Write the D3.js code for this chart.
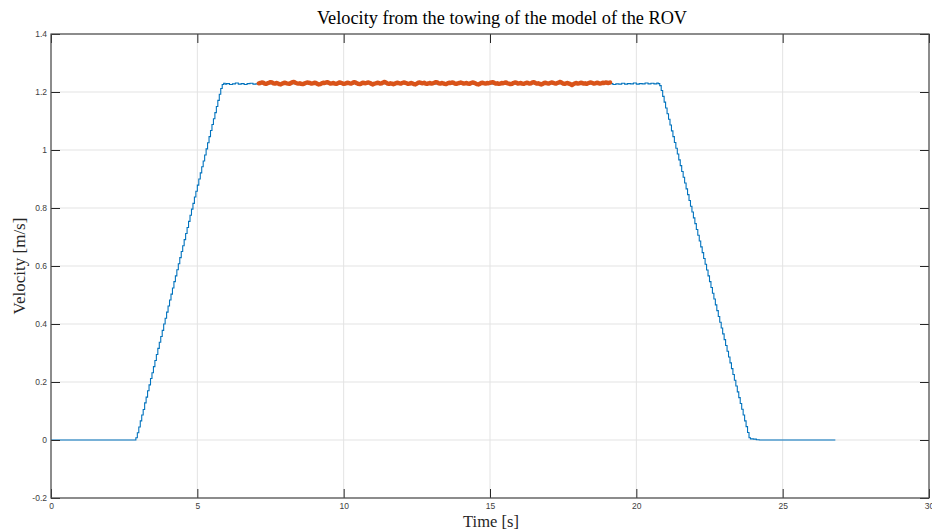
<!DOCTYPE html>
<html>
<head>
<meta charset="utf-8">
<script src="https://cdn.jsdelivr.net/npm/d3@7"></script>
<style>
  html, body { margin: 0; padding: 0; background: #fff; }
  svg { display: block; }
</style>
</head>
<body>
<svg id="chart" width="932" height="530"></svg>
<script>
// Tow-carriage velocity record [time s, velocity m/s]
const towTime = [
  0, 2.85, 2.90, 2.95, 3.00, 3.05, 3.10, 3.15, 3.20, 3.25, 3.30, 3.35, 3.40, 3.45, 3.50,
  3.55, 3.60, 3.65, 3.70, 3.75, 3.80, 3.85, 3.90, 3.95, 4.00, 4.05, 4.10, 4.15, 4.20,
  4.25, 4.30, 4.35, 4.40, 4.45, 4.50, 4.55, 4.60, 4.65, 4.70, 4.75, 4.80, 4.85, 4.90,
  4.95, 5.00, 5.05, 5.10, 5.15, 5.20, 5.25, 5.30, 5.35, 5.40, 5.45, 5.50, 5.55, 5.60,
  5.65, 5.70, 5.75, 5.80, 5.85, 5.90, 5.95, 6.00, 6.10, 6.20, 6.30, 6.40, 6.50, 6.60,
  6.70, 6.80, 6.90, 7.00, 7.10, 10.0, 13.0, 16.0, 19.1, 19.2, 19.3, 19.4, 19.5, 19.6,
  19.7, 19.8, 19.9, 20.0, 20.1, 20.2, 20.3, 20.4, 20.5, 20.6, 20.7, 20.75, 20.80, 20.85,
  20.90, 20.95, 21.00, 21.05, 21.10, 21.15, 21.20, 21.25, 21.30, 21.35, 21.40, 21.45,
  21.50, 21.55, 21.60, 21.65, 21.70, 21.75, 21.80, 21.85, 21.90, 21.95, 22.00, 22.05,
  22.10, 22.15, 22.20, 22.25, 22.30, 22.35, 22.40, 22.45, 22.50, 22.55, 22.60, 22.65,
  22.70, 22.75, 22.80, 22.85, 22.90, 22.95, 23.00, 23.05, 23.10, 23.15, 23.20, 23.25,
  23.30, 23.35, 23.40, 23.45, 23.50, 23.55, 23.60, 23.65, 23.70, 23.75, 23.80, 23.85,
  23.90, 24.00, 24.10, 24.20, 26.80
];
const towVelocity = [
  0, 0, 0.008, 0.025, 0.045, 0.066, 0.086, 0.105, 0.128, 0.148, 0.170, 0.190, 0.212, 0.232, 0.253,
  0.274, 0.295, 0.316, 0.337, 0.357, 0.378, 0.400, 0.420, 0.441, 0.462, 0.483, 0.503, 0.524, 0.546,
  0.566, 0.587, 0.608, 0.629, 0.650, 0.670, 0.691, 0.712, 0.733, 0.754, 0.775, 0.796, 0.816, 0.838,
  0.858, 0.879, 0.900, 0.921, 0.942, 0.962, 0.983, 1.004, 1.025, 1.046, 1.067, 1.088, 1.108, 1.129,
  1.150, 1.171, 1.192, 1.212, 1.226, 1.230, 1.227, 1.229, 1.226, 1.228, 1.231, 1.227, 1.229, 1.226,
  1.229, 1.230, 1.227, 1.228, 1.229, 1.229, 1.228, 1.229, 1.229, 1.226, 1.228, 1.227, 1.230, 1.227,
  1.229, 1.228, 1.231, 1.227, 1.229, 1.228, 1.231, 1.228, 1.230, 1.228, 1.231, 1.229, 1.222, 1.205,
  1.185, 1.165, 1.145, 1.125, 1.106, 1.086, 1.066, 1.046, 1.026, 1.006, 0.986, 0.966,
  0.946, 0.926, 0.906, 0.886, 0.866, 0.846, 0.826, 0.806, 0.786, 0.766, 0.746, 0.726,
  0.706, 0.686, 0.666, 0.646, 0.626, 0.606, 0.586, 0.566, 0.546, 0.526, 0.506, 0.486,
  0.466, 0.446, 0.426, 0.406, 0.386, 0.366, 0.346, 0.326, 0.306, 0.286, 0.266, 0.246,
  0.226, 0.206, 0.186, 0.166, 0.146, 0.126, 0.106, 0.086, 0.066, 0.046, 0.026, 0.008,
  0.004, 0.003, 0.001, 0, 0
];

// Steady-state window used for the measurement, sampled every 0.05 s from 7.1 s
const steadyStart = 7.1;
const steadyStep = 0.05;
const steadyVelocity = [
  1.230, 1.231, 1.233, 1.232, 1.229, 1.228, 1.230, 1.232, 1.234, 1.233, 1.230, 1.229, 1.231, 1.230, 1.227, 1.226, 1.229, 1.231, 1.232, 1.230,
  1.229, 1.228, 1.231, 1.234, 1.235, 1.232, 1.230, 1.229, 1.230, 1.228, 1.227, 1.229, 1.231, 1.233, 1.232, 1.231, 1.229, 1.230, 1.232, 1.231,
  1.228, 1.226, 1.227, 1.230, 1.232, 1.231, 1.233, 1.234, 1.231, 1.229, 1.230, 1.231, 1.229, 1.228, 1.230, 1.233, 1.232, 1.230, 1.228, 1.229,
  1.231, 1.232, 1.230, 1.229, 1.231, 1.234, 1.233, 1.230, 1.228, 1.227, 1.229, 1.232, 1.231, 1.230, 1.232, 1.233, 1.231, 1.228, 1.226, 1.229,
  1.230, 1.232, 1.231, 1.229, 1.230, 1.233, 1.235, 1.232, 1.229, 1.228, 1.230, 1.229, 1.227, 1.229, 1.231, 1.232, 1.230, 1.229, 1.231, 1.233,
  1.232, 1.230, 1.228, 1.229, 1.231, 1.230, 1.227, 1.226, 1.229, 1.232, 1.233, 1.231, 1.230, 1.232, 1.229, 1.228, 1.230, 1.231, 1.229, 1.230,
  1.232, 1.234, 1.233, 1.230, 1.229, 1.231, 1.230, 1.228, 1.227, 1.230, 1.232, 1.231, 1.233, 1.232, 1.229, 1.228, 1.230, 1.231, 1.233, 1.231,
  1.229, 1.230, 1.231, 1.229, 1.228, 1.231, 1.233, 1.232, 1.230, 1.227, 1.226, 1.228, 1.231, 1.232, 1.230, 1.229, 1.231, 1.230, 1.232, 1.233,
  1.234, 1.231, 1.229, 1.230, 1.228, 1.229, 1.231, 1.230, 1.232, 1.233, 1.230, 1.229, 1.227, 1.228, 1.231, 1.233, 1.232, 1.229, 1.230, 1.231,
  1.229, 1.228, 1.230, 1.232, 1.231, 1.229, 1.230, 1.233, 1.234, 1.231, 1.229, 1.230, 1.228, 1.226, 1.228, 1.231, 1.232, 1.230, 1.229, 1.231,
  1.233, 1.232, 1.230, 1.229, 1.231, 1.233, 1.235, 1.232, 1.229, 1.228, 1.230, 1.231, 1.229, 1.227, 1.224, 1.227, 1.230, 1.231, 1.229, 1.230,
  1.232, 1.231, 1.229, 1.230, 1.228, 1.230, 1.232, 1.233, 1.231, 1.229, 1.230, 1.232, 1.231, 1.229, 1.230, 1.232, 1.231, 1.233, 1.232, 1.231,
  1.233
];

const xTicks = [0, 5, 10, 15, 20, 25, 30];
const yTicks = [-0.2, 0, 0.2, 0.4, 0.6, 0.8, 1, 1.2, 1.4];

const titleText = "Velocity from the towing of the model of the ROV";
const xLabel = "Time [s]";
const yLabel = "Velocity [m/s]";

// ---- layout ----
const svg = d3.select("#chart");
const box = { left: 51, right: 929, top: 34, bottom: 498 };

const x = d3.scaleLinear().domain([0, 30]).range([box.left, box.right]);
const y = d3.scaleLinear().domain([-0.2, 1.4]).range([box.bottom, box.top]);

const axisColor = "#262626";
const gridColor = "#e3e3e3";
const tickFont = "'Liberation Sans', Arial, sans-serif";
const serif = "'Liberation Serif', 'Times New Roman', serif";

// grid
const grid = svg.append("g");
grid.selectAll("line.gx").data(xTicks).join("line")
  .attr("x1", d => x(d)).attr("x2", d => x(d))
  .attr("y1", box.top).attr("y2", box.bottom)
  .attr("stroke", gridColor).attr("stroke-width", 1);
grid.selectAll("line.gy").data(yTicks).join("line")
  .attr("y1", d => y(d)).attr("y2", d => y(d))
  .attr("x1", box.left).attr("x2", box.right)
  .attr("stroke", gridColor).attr("stroke-width", 1);

// series
const towPoints = towTime.map((t, i) => [t, towVelocity[i]]);
const steadyPoints = steadyVelocity.map((v, i) => [steadyStart + i * steadyStep, v]);

svg.append("path")
  .datum(towPoints)
  .attr("fill", "none")
  .attr("stroke", "#0072BD")
  .attr("stroke-width", 1.1)
  .attr("d", d3.line().x(d => x(d[0])).y(d => y(d[1])).curve(d3.curveStepAfter));

svg.append("path")
  .datum(steadyPoints)
  .attr("fill", "none")
  .attr("stroke", "#D95319")
  .attr("stroke-width", 4.4)
  .attr("stroke-linejoin", "round")
  .attr("stroke-linecap", "round")
  .attr("d", d3.line().x(d => x(d[0])).y(d => y(d[1])));

// axes with inward ticks
const fmtY = d => String(+(+d).toFixed(1));
const styleAxis = g => {
  g.select(".domain").remove();
  g.selectAll(".tick line").attr("stroke", axisColor).attr("stroke-width", 1);
  g.selectAll(".tick text").attr("fill", "#404040")
    .style("font-family", tickFont).style("font-size", "8.5px");
};

svg.append("g")
  .attr("transform", `translate(0,${box.bottom})`)
  .call(d3.axisBottom(x).tickValues(xTicks).tickFormat(d3.format("d"))
    .tickSizeInner(-9).tickSizeOuter(0).tickPadding(5))
  .call(styleAxis);
svg.append("g")
  .attr("transform", `translate(0,${box.top})`)
  .call(d3.axisTop(x).tickValues(xTicks).tickFormat("")
    .tickSizeInner(-9).tickSizeOuter(0))
  .call(styleAxis);
svg.append("g")
  .attr("transform", `translate(${box.left},0)`)
  .call(d3.axisLeft(y).tickValues(yTicks).tickFormat(fmtY)
    .tickSizeInner(-9).tickSizeOuter(0).tickPadding(4))
  .call(styleAxis);
svg.append("g")
  .attr("transform", `translate(${box.right},0)`)
  .call(d3.axisRight(y).tickValues(yTicks).tickFormat("")
    .tickSizeInner(-9).tickSizeOuter(0))
  .call(styleAxis);

// frame
svg.append("rect")
  .attr("x", box.left).attr("y", box.top)
  .attr("width", box.right - box.left).attr("height", box.bottom - box.top)
  .attr("fill", "none").attr("stroke", "#4a4a4a").attr("stroke-width", 1.2);

// title and labels
svg.append("text")
  .attr("x", (box.left + box.right) / 2 + 12).attr("y", 24)
  .attr("text-anchor", "middle")
  .style("font-family", serif).style("font-size", "18.3px").attr("fill", "#000")
  .text(titleText);

svg.append("text")
  .attr("x", 491).attr("y", 527)
  .attr("text-anchor", "middle")
  .style("font-family", serif).style("font-size", "16.5px").attr("fill", "#262626")
  .text(xLabel);

svg.append("text")
  .attr("transform", `translate(25,${(box.top + box.bottom) / 2}) rotate(-90)`)
  .attr("text-anchor", "middle")
  .style("font-family", serif).style("font-size", "17px").attr("fill", "#262626")
  .text(yLabel);
</script>
</body>
</html>
